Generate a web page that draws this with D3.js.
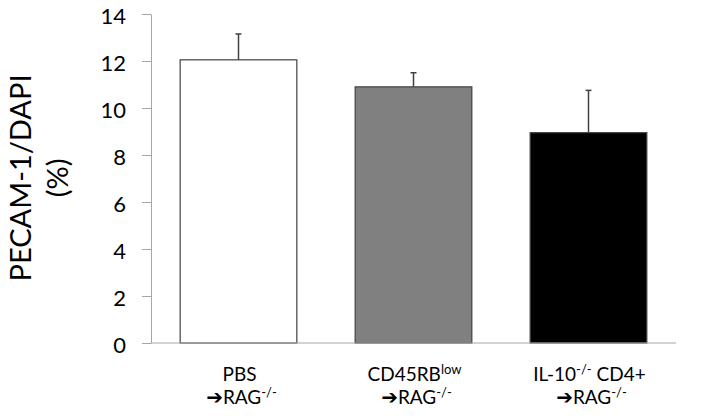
<!DOCTYPE html>
<html>
<head>
<meta charset="utf-8">
<script src="https://cdn.jsdelivr.net/npm/d3@7"></script>
<style>
  body { margin: 0; background: #fff; }
  text { font-family: Lato, "Liberation Sans", sans-serif; fill: #000; }
</style>
</head>
<body>
<div id="chart"></div>
<script>
// data
var groups = ["PBS", "CD45RBlow", "IL10CD4"];
var means = [12.05, 10.9, 8.95];
var errors = [1.1, 0.6, 1.8];
var fills = ["#ffffff", "#808080", "#000000"];
var yTicks = [0, 2, 4, 6, 8, 10, 12, 14];
// first line of each x label: [text, superscript] pieces
var labelLine1 = [
    [["PBS", false]],
    [["CD45RB", false], ["low", true]],
    [["IL-10", false], ["-/-", true], [" CD4+", false]]
];

var margin = {top: 14, right: 36, bottom: 75, left: 151};
var W = 712, H = 418;
var width = W - margin.left - margin.right;
var height = H - margin.top - margin.bottom;

var svg = d3.select("#chart").append("svg")
    .attr("width", W)
    .attr("height", H)
    .append("g")
    .attr("transform", "translate(" + margin.left + "," + margin.top + ")");

var x = d3.scaleBand()
    .domain(groups)
    .range([0, width])
    .paddingInner(1/3)
    .paddingOuter(1/6);

var y = d3.scaleLinear()
    .domain([0, 14])
    .range([height, 0]);

// y axis
var yAxis = svg.append("g")
    .call(d3.axisLeft(y).tickValues(yTicks).tickSize(9).tickPadding(16).tickSizeOuter(0));
yAxis.select(".domain").attr("stroke", "#a6a6a6");
yAxis.selectAll(".tick line").attr("stroke", "#a6a6a6");
yAxis.selectAll(".tick text")
    .style("font-size", "22px")
    .style("font-family", "Lato, sans-serif")
    .attr("dy", "0.45em");

// bars
svg.selectAll(".bar")
    .data(groups)
    .enter()
    .append("rect")
        .attr("class", "bar")
        .attr("x", function(d) { return x(d); })
        .attr("y", function(d, i) { return y(means[i]); })
        .attr("width", x.bandwidth())
        .attr("height", function(d, i) { return height - y(means[i]); })
        .attr("fill", function(d, i) { return fills[i]; })
        .attr("stroke", "#404040")
        .attr("stroke-width", 1.2);

// error bars (upper only)
var eb = svg.selectAll(".err")
    .data(groups)
    .enter()
    .append("g")
    .attr("class", "err")
    .attr("stroke", "#404040")
    .attr("stroke-width", 1.5);
eb.append("line")
    .attr("x1", function(d) { return x(d) + x.bandwidth() / 2; })
    .attr("x2", function(d) { return x(d) + x.bandwidth() / 2; })
    .attr("y1", function(d, i) { return y(means[i]); })
    .attr("y2", function(d, i) { return y(means[i] + errors[i]); });
eb.append("line")
    .attr("x1", function(d) { return x(d) + x.bandwidth() / 2 - 3; })
    .attr("x2", function(d) { return x(d) + x.bandwidth() / 2 + 3; })
    .attr("y1", function(d, i) { return y(means[i] + errors[i]); })
    .attr("y2", function(d, i) { return y(means[i] + errors[i]); });

// x baseline
svg.append("line")
    .attr("x1", 0).attr("x2", width)
    .attr("y1", height).attr("y2", height)
    .attr("stroke", "#a6a6a6");

// x labels, two lines in one text each
groups.forEach(function(g, i) {
    var cx = x(g) + x.bandwidth() / 2;
    var t = svg.append("text")
        .attr("y", height + 38)
        .attr("text-anchor", "middle")
        .style("font-size", "19px");
    labelLine1[i].forEach(function(p, k) {
        var ts = t.append("tspan").text(p[0]);
        if (k === 0) ts.attr("x", cx + 1);
        if (p[1]) ts.attr("dy", -7).style("font-size", "13px");
        else if (k > 0) ts.attr("dy", 7);
    });
    var lastSup = labelLine1[i][labelLine1[i].length - 1][1];
    t.append("tspan").attr("x", cx + 3).attr("dy", lastSup ? 30 : 23)
        .text("\u2794").style("font-family", "DejaVu Sans").style("font-size", "20px");
    t.append("tspan").text("RAG");
    t.append("tspan").text("-/-").attr("dy", -7).style("font-size", "13px");
});

// y title
var yt = svg.append("text")
    .attr("transform", "translate(" + (-120) + "," + 164 + ") rotate(-90)")
    .attr("text-anchor", "middle")
    .style("font-size", "29px");
yt.append("tspan").attr("x", 0).attr("dy", 0).text("PECAM-1/DAPI");
yt.append("tspan").attr("x", 0).attr("dy", 37).text("(%)");
</script>
</body>
</html>
